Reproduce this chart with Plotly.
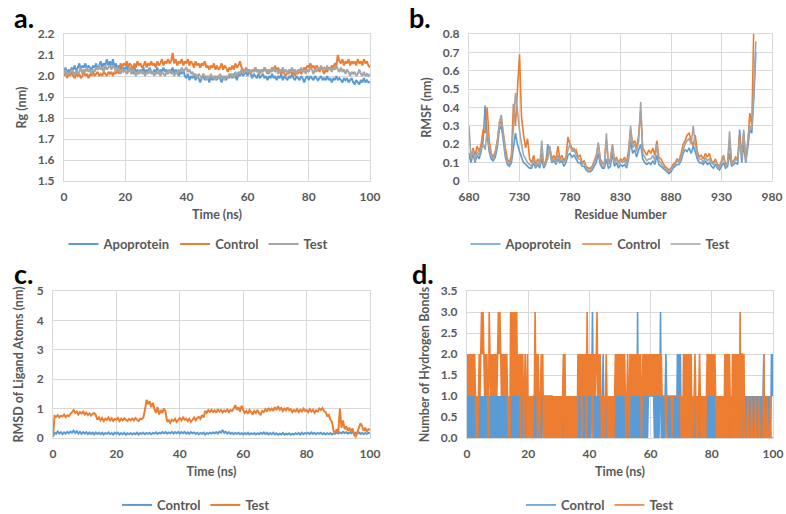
import plotly.graph_objects as go

# ---------------- data ----------------
time_step_ns = 0.5

# a. Radius of gyration (nm), sampled every 0.5 ns from 0 to 100 ns
rg_apoprotein = [
    2.02, 2.04, 2.01, 2.03, 2.02, 2.04, 2.03, 2.05, 2.02, 2.04,
    2.06, 2.03, 2.05, 2.04, 2.06, 2.03, 2.05, 2.04, 2.03, 2.05,
    2.04, 2.06, 2.03, 2.05, 2.07, 2.04, 2.06, 2.05, 2.08, 2.05,
    2.07, 2.05, 2.08, 2.04, 2.06, 2.03, 2.05, 2.04, 2.02, 2.04,
    2.03, 2.05, 2.02, 2.04, 2.03, 2.01, 2.04, 2.02, 2.03, 2.01,
    2.03, 2.02, 2.04, 2.01, 2.03, 2.02, 2.04, 2.02, 2.01, 2.03,
    2.02, 2.04, 2.01, 2.03, 2.02, 2.04, 2.02, 2.03, 2.01, 2.03,
    2.02, 2.04, 2.01, 2.03, 2.02, 2.00, 2.02, 2.01, 2.03, 2.00,
    1.99, 2.01, 1.98, 2.00, 1.99, 2.01, 1.98, 2.00, 1.99, 1.97,
    1.99, 2.00, 1.98, 2.00, 1.99, 1.97, 2.00, 1.98, 1.99, 2.00,
    1.98, 2.00, 1.99, 1.97, 1.99, 2.00, 1.98, 2.00, 1.99, 2.01,
    1.99, 2.01, 2.00, 1.98, 2.01, 2.00, 2.02, 2.00, 2.01, 2.02,
    2.00, 2.02, 2.01, 1.99, 2.01, 2.00, 1.99, 2.01, 1.99, 2.00,
    2.01, 1.99, 2.00, 1.98, 2.00, 1.99, 2.01, 1.99, 2.00, 1.98,
    2.00, 1.99, 2.01, 1.98, 2.00, 1.99, 1.98, 2.00, 1.99, 2.01,
    1.99, 1.98, 2.00, 1.99, 1.98, 2.00, 1.99, 1.97, 1.99, 2.00,
    1.98, 2.00, 1.99, 1.98, 2.00, 1.99, 1.98, 1.99, 2.00, 1.98,
    1.99, 1.98, 2.00, 1.98, 1.99, 1.97, 1.99, 1.98, 2.00, 1.98,
    1.99, 1.98, 1.97, 1.99, 1.98, 1.99, 1.97, 1.98, 1.99, 1.97,
    1.96, 1.98, 1.97, 1.96, 1.98, 1.97, 1.99, 1.97, 1.98, 1.97,
    1.97,
]
rg_control = [
    2.00, 2.02, 1.99, 2.01, 2.00, 2.02, 2.00, 1.99, 2.01, 2.00,
    2.01, 1.99, 2.00, 2.02, 2.00, 2.01, 1.99, 2.01, 2.00, 2.02,
    2.00, 2.01, 2.02, 2.00, 2.01, 2.00, 2.02, 2.01, 2.00, 2.02,
    2.01, 2.02, 2.00, 2.02, 2.01, 2.03, 2.01, 2.06, 2.04, 2.06,
    2.05, 2.07, 2.04, 2.06, 2.05, 2.03, 2.06, 2.04, 2.07, 2.05,
    2.06, 2.04, 2.05, 2.07, 2.04, 2.06, 2.05, 2.07, 2.05, 2.06,
    2.04, 2.07, 2.05, 2.06, 2.08, 2.05, 2.07, 2.06, 2.08, 2.06,
    2.07, 2.11, 2.06, 2.08, 2.05, 2.07, 2.06, 2.08, 2.05, 2.07,
    2.06, 2.08, 2.05, 2.07, 2.06, 2.04, 2.07, 2.05, 2.06, 2.04,
    2.06, 2.05, 2.07, 2.04, 2.05, 2.03, 2.05, 2.04, 2.06, 2.03,
    2.05, 2.03, 2.04, 2.06, 2.03, 2.05, 2.04, 2.02, 2.04, 2.03,
    2.05, 2.03, 2.06, 2.04, 2.05, 2.07, 2.04, 2.03, 2.02, 2.04,
    2.02, 2.03, 2.01, 2.03, 2.02, 2.04, 2.02, 2.03, 2.01, 2.03,
    2.02, 2.04, 2.03, 2.01, 2.03, 2.02, 2.04, 2.03, 2.05, 2.02,
    2.04, 2.02, 2.01, 2.03, 2.01, 2.00, 2.02, 2.01, 2.03, 2.01,
    2.02, 2.00, 2.02, 2.01, 2.03, 2.01, 2.02, 2.04, 2.03, 2.05,
    2.04, 2.06, 2.04, 2.05, 2.03, 2.05, 2.04, 2.02, 2.04, 2.03,
    2.01, 2.03, 2.02, 2.04, 2.03, 2.05, 2.04, 2.06, 2.05, 2.10,
    2.07, 2.06, 2.08, 2.05, 2.07, 2.06, 2.08, 2.05, 2.07, 2.06,
    2.07, 2.05, 2.08, 2.06, 2.07, 2.05, 2.08, 2.06, 2.07, 2.05,
    2.04,
]
rg_test = [
    2.01, 2.03, 2.00, 2.02, 2.01, 2.03, 2.02, 2.00, 2.03, 2.01,
    2.02, 2.04, 2.01, 2.03, 2.02, 2.04, 2.02, 2.03, 2.01, 2.03,
    2.02, 2.04, 2.03, 2.05, 2.03, 2.04, 2.02, 2.05, 2.03, 2.04,
    2.05, 2.03, 2.05, 2.04, 2.02, 2.04, 2.03, 2.01, 2.03, 2.02,
    2.03, 2.01, 2.02, 2.04, 2.01, 2.03, 2.02, 2.00, 2.02, 2.01,
    2.03, 2.01, 2.02, 2.00, 2.02, 2.01, 2.03, 2.01, 2.02, 2.00,
    2.02, 2.01, 2.03, 2.00, 2.02, 2.01, 2.00, 2.02, 2.01, 2.03,
    2.01, 2.02, 2.00, 2.02, 2.01, 2.03, 2.02, 2.04, 2.02, 2.03,
    2.04, 2.02, 2.03, 2.01, 2.02, 2.00, 2.01, 1.99, 2.01, 2.00,
    1.99, 2.01, 2.00, 1.98, 2.00, 1.99, 2.01, 1.99, 2.00, 1.98,
    2.00, 1.99, 2.01, 1.99, 2.00, 1.98, 2.00, 1.99, 2.01, 2.00,
    2.01, 1.99, 2.02, 2.00, 2.02, 2.01, 2.03, 2.01, 2.02, 2.03,
    2.02, 2.03, 2.01, 2.03, 2.02, 2.04, 2.02, 2.03, 2.01, 2.03,
    2.02, 2.04, 2.02, 2.03, 2.01, 2.03, 2.02, 2.04, 2.02, 2.03,
    2.01, 2.03, 2.02, 2.04, 2.02, 2.03, 2.01, 2.03, 2.02, 2.04,
    2.02, 2.03, 2.01, 2.03, 2.02, 2.04, 2.02, 2.03, 2.01, 2.03,
    2.02, 2.04, 2.03, 2.01, 2.03, 2.02, 2.04, 2.03, 2.05, 2.03,
    2.04, 2.03, 2.05, 2.03, 2.04, 2.02, 2.04, 2.03, 2.05, 2.03,
    2.02, 2.04, 2.02, 2.03, 2.01, 2.03, 2.02, 2.00, 2.02, 2.01,
    2.02, 2.00, 2.01, 2.03, 2.01, 2.00, 2.02, 2.00, 2.01, 2.00,
    2.01,
]

# b. RMSF (nm) per residue, every 2nd residue from 680 to 964
residue_start = 680
residue_step = 2
rmsf_apoprotein = [
    0.14, 0.10, 0.15, 0.10, 0.14, 0.12, 0.16, 0.22, 0.41, 0.25,
    0.16, 0.12, 0.11, 0.13, 0.18, 0.28, 0.30, 0.22, 0.13, 0.09,
    0.08, 0.10, 0.18, 0.26, 0.20, 0.16, 0.13, 0.10, 0.09, 0.08,
    0.07, 0.07, 0.10, 0.07, 0.09, 0.07, 0.12, 0.07, 0.09, 0.20,
    0.16, 0.10, 0.11, 0.09, 0.12, 0.10, 0.11, 0.08, 0.10, 0.14,
    0.15, 0.13, 0.14, 0.12, 0.10, 0.10, 0.08, 0.08, 0.06, 0.05,
    0.05, 0.06, 0.08, 0.10, 0.15, 0.09, 0.07, 0.07, 0.12, 0.07,
    0.08, 0.15, 0.08, 0.10, 0.07, 0.09, 0.08, 0.09, 0.07, 0.12,
    0.22, 0.15, 0.17, 0.13, 0.17, 0.20, 0.12, 0.10, 0.09, 0.10,
    0.09, 0.11, 0.09, 0.14, 0.09, 0.08, 0.07, 0.06, 0.05, 0.04,
    0.05, 0.07, 0.08, 0.09, 0.09, 0.11, 0.15, 0.17, 0.16, 0.18,
    0.15, 0.19, 0.16, 0.12, 0.10, 0.10, 0.09, 0.11, 0.09, 0.10,
    0.08, 0.07, 0.09, 0.07, 0.06, 0.08, 0.10, 0.07, 0.08, 0.15,
    0.08, 0.09, 0.10, 0.09, 0.28, 0.10, 0.20, 0.10, 0.18, 0.28,
    0.26, 0.45, 0.70,
]
rmsf_control = [
    0.15, 0.13, 0.18, 0.14, 0.19, 0.16, 0.20, 0.28, 0.26, 0.40,
    0.22, 0.15, 0.13, 0.16, 0.22, 0.30, 0.33, 0.26, 0.18, 0.12,
    0.10, 0.14, 0.42, 0.30, 0.50, 0.69, 0.35, 0.25, 0.18, 0.23,
    0.12, 0.10, 0.14, 0.09, 0.12, 0.10, 0.15, 0.09, 0.11, 0.14,
    0.18, 0.12, 0.14, 0.11, 0.19, 0.12, 0.14, 0.11, 0.13, 0.24,
    0.20, 0.18, 0.16, 0.17, 0.13, 0.14, 0.10, 0.11, 0.08, 0.07,
    0.07, 0.08, 0.11, 0.14, 0.20, 0.12, 0.10, 0.09, 0.22, 0.10,
    0.12, 0.20, 0.11, 0.13, 0.10, 0.12, 0.11, 0.13, 0.10, 0.17,
    0.28, 0.20, 0.22, 0.18, 0.25, 0.38, 0.18, 0.16, 0.14, 0.17,
    0.15, 0.18, 0.14, 0.22, 0.13, 0.12, 0.10, 0.08, 0.07, 0.06,
    0.07, 0.09, 0.10, 0.12, 0.11, 0.15, 0.20, 0.22, 0.25, 0.26,
    0.22, 0.19, 0.25, 0.16, 0.13, 0.14, 0.12, 0.15, 0.13, 0.15,
    0.11, 0.10, 0.12, 0.09, 0.08, 0.11, 0.14, 0.09, 0.10, 0.22,
    0.10, 0.11, 0.13, 0.12, 0.25, 0.14, 0.26, 0.12, 0.20, 0.37,
    0.30, 0.85, 0.90,
]
rmsf_test = [
    0.30, 0.12, 0.17, 0.11, 0.16, 0.14, 0.18, 0.20, 0.17, 0.28,
    0.18, 0.14, 0.12, 0.15, 0.20, 0.32, 0.36, 0.25, 0.15, 0.10,
    0.09, 0.12, 0.30, 0.48, 0.38, 0.28, 0.20, 0.14, 0.12, 0.10,
    0.09, 0.08, 0.12, 0.08, 0.10, 0.08, 0.22, 0.08, 0.10, 0.12,
    0.19, 0.11, 0.12, 0.10, 0.14, 0.11, 0.12, 0.10, 0.12, 0.17,
    0.20, 0.16, 0.18, 0.14, 0.12, 0.12, 0.09, 0.10, 0.07, 0.06,
    0.06, 0.07, 0.10, 0.12, 0.21, 0.11, 0.08, 0.08, 0.26, 0.09,
    0.10, 0.19, 0.10, 0.12, 0.09, 0.11, 0.10, 0.11, 0.09, 0.14,
    0.30, 0.18, 0.20, 0.16, 0.22, 0.43, 0.15, 0.13, 0.11, 0.12,
    0.12, 0.14, 0.11, 0.20, 0.11, 0.10, 0.08, 0.07, 0.06, 0.05,
    0.06, 0.08, 0.09, 0.11, 0.10, 0.13, 0.17, 0.20, 0.22, 0.23,
    0.20, 0.30, 0.20, 0.14, 0.12, 0.12, 0.10, 0.13, 0.11, 0.12,
    0.10, 0.09, 0.11, 0.08, 0.07, 0.10, 0.13, 0.08, 0.09, 0.27,
    0.09, 0.10, 0.12, 0.11, 0.22, 0.12, 0.28, 0.11, 0.22, 0.30,
    0.28, 0.50, 0.76,
]

# c. RMSD of ligand atoms (nm), every 0.5 ns
rmsd_control = [
    0.05, 0.18, 0.14, 0.22, 0.15, 0.20, 0.13, 0.19, 0.15, 0.21,
    0.16, 0.22, 0.18, 0.25, 0.17, 0.23, 0.15, 0.21, 0.14, 0.20,
    0.15, 0.20, 0.13, 0.19, 0.14, 0.18, 0.12, 0.19, 0.14, 0.18,
    0.13, 0.18, 0.12, 0.17, 0.14, 0.19, 0.13, 0.17, 0.12, 0.18,
    0.14, 0.18, 0.12, 0.17, 0.13, 0.18, 0.11, 0.16, 0.13, 0.17,
    0.12, 0.16, 0.13, 0.18, 0.12, 0.17, 0.14, 0.18, 0.13, 0.17,
    0.14, 0.18, 0.13, 0.17, 0.15, 0.19, 0.14, 0.18, 0.15, 0.20,
    0.16, 0.20, 0.15, 0.19, 0.16, 0.21, 0.15, 0.20, 0.16, 0.21,
    0.15, 0.20, 0.16, 0.21, 0.15, 0.19, 0.14, 0.20, 0.16, 0.19,
    0.14, 0.18, 0.13, 0.17, 0.14, 0.18, 0.12, 0.17, 0.14, 0.18,
    0.15, 0.19, 0.16, 0.20, 0.15, 0.22, 0.18, 0.27, 0.17, 0.21,
    0.15, 0.20, 0.14, 0.18, 0.13, 0.17, 0.14, 0.18, 0.13, 0.17,
    0.12, 0.17, 0.13, 0.18, 0.12, 0.16, 0.13, 0.17, 0.12, 0.16,
    0.13, 0.18, 0.14, 0.19, 0.13, 0.18, 0.12, 0.17, 0.13, 0.18,
    0.12, 0.16, 0.11, 0.15, 0.12, 0.17, 0.11, 0.15, 0.12, 0.16,
    0.11, 0.15, 0.12, 0.16, 0.13, 0.17, 0.12, 0.18, 0.13, 0.17,
    0.14, 0.18, 0.13, 0.19, 0.14, 0.18, 0.13, 0.17, 0.14, 0.18,
    0.13, 0.17, 0.12, 0.16, 0.13, 0.17, 0.12, 0.16, 0.14, 0.18,
    0.15, 0.19, 0.16, 0.21, 0.17, 0.20, 0.15, 0.19, 0.16, 0.20,
    0.14, 0.18, 0.15, 0.19, 0.14, 0.18, 0.13, 0.17, 0.14, 0.18,
    0.15,
]
rmsd_test = [
    0.05, 0.75, 0.72, 0.78, 0.70, 0.76, 0.73, 0.80, 0.71, 0.77,
    0.74, 0.82, 0.88, 0.95, 0.85, 0.90, 0.80, 0.88, 0.83, 0.90,
    0.80, 0.86, 0.78, 0.84, 0.76, 0.82, 0.85, 0.78, 0.62, 0.70,
    0.60, 0.68, 0.58, 0.66, 0.62, 0.70, 0.60, 0.67, 0.58, 0.65,
    0.62, 0.68, 0.58, 0.66, 0.60, 0.67, 0.62, 0.58, 0.65, 0.60,
    0.66, 0.60, 0.68, 0.62, 0.58, 0.66, 0.64, 0.70, 0.95, 1.30,
    1.15, 1.25, 1.05, 1.20, 1.00, 0.85, 1.05, 0.80, 0.95, 0.85,
    1.00, 0.90, 0.55, 0.60, 0.52, 0.62, 0.58, 0.65, 0.55, 0.62,
    0.68, 0.60, 0.70, 0.62, 0.66, 0.58, 0.65, 0.55, 0.62, 0.70,
    0.60, 0.68, 0.72, 0.65, 0.78, 0.70, 0.92, 0.85, 0.95, 0.88,
    0.96, 0.88, 0.94, 0.86, 0.98, 0.90, 0.95, 0.87, 0.94, 0.90,
    0.97, 0.88, 0.95, 0.92, 1.00, 1.12, 0.95, 1.05, 0.90, 1.10,
    0.95, 0.85, 0.92, 0.82, 0.95, 0.88, 0.80, 0.92, 0.85, 0.95,
    0.85, 0.80, 0.92, 0.88, 0.98, 0.90, 1.02, 0.94, 1.00, 0.92,
    1.05, 0.95, 1.08, 0.96, 1.02, 0.92, 1.00, 0.94, 1.04, 0.95,
    0.98, 0.88, 0.95, 0.90, 0.98, 0.88, 0.96, 0.90, 1.00, 0.92,
    0.95, 0.88, 0.98, 0.90, 0.96, 0.86, 0.94, 0.90, 1.00, 0.95,
    1.02, 0.92, 0.88, 0.75, 0.78, 0.62, 0.55, 0.25, 0.15, 0.30,
    0.20, 1.00, 0.35, 0.60, 0.30, 0.40, 0.25, 0.35, 0.22, 0.32,
    0.10, 0.05, 0.20, 0.35, 0.50, 0.40, 0.25, 0.35, 0.22, 0.30,
    0.28,
]

# d. Number of hydrogen bonds, one digit per 0.25 ns frame; each chunk = 10 ns
hb_step_ns = 0.25
hbonds_control_frames = [
    "0101010101" "0101010101" "0101010101" "0101010101",
    "0101010101" "0101010101" "0101010101" "0101010101",
    "0101010101" "0101010101" "1111111111" "1101010101",
    "0101010101" "0101010101" "0101010101" "0101010101",
    "0101310101" "0101010120" "0101010101" "0101010101",
    "0101010101" "0101010101" "0103010101" "0101010111",
    "1111101010" "1013010101" "2101010101" "0101020202",
    "0101010101" "0101010101" "0101010101" "0101010101",
    "0101010101" "0101010101" "0101010101" "0101010101",
    "0101010101" "0101010101" "0101010120" "10101010212",
]
hbonds_test_frames = [
    "2121212121" "2101012123" "2321212103" "2121212121",
    "2323212121" "2121010313" "1313131212" "0212012102",
    "0101010113" "1202101212" "0101010101" "0101010101",
    "0101012020" "1010101010" "1010021212" "0212120312",
    "1212021212" "3121210101" "0121010101" "0101212121",
    "2121212101" "2102121212" "1212121201" "2121212121",
    "2121212121" "2121211111" "0111111101" "1111111111",
    "0102020202" "0202010121" "0101210101" "0101212121",
    "2121210101" "0101010202" "0202100202" "0202020302",
    "2020000100" "0010000100" "0010000020" "00100010000",
]
hbonds_control = [int(c) for c in "".join(hbonds_control_frames)]
hbonds_test = [int(c) for c in "".join(hbonds_test_frames)]

# ---------------- styling ----------------
BLUE = "#5B9BD5"
ORANGE = "#ED7D31"
GRAY = "#A5A5A5"
GRID = "#D9D9D9"
TXT = "#595959"
FONT = "Lato"

time_a = [i * time_step_ns for i in range(len(rg_apoprotein))]
time_c = [i * time_step_ns for i in range(len(rmsd_test))]
time_d_control = [i * hb_step_ns for i in range(len(hbonds_control))]
time_d_test = [i * hb_step_ns for i in range(len(hbonds_test))]
residues = [residue_start + i * residue_step for i in range(len(rmsf_control))]

fig = go.Figure()

def add(x, y, name, color, xa, ya, legend, width=1.5):
    fig.add_trace(go.Scatter(
        x=x, y=y, name=name, mode="lines",
        line=dict(color=color, width=width, simplify=False),
        xaxis=xa, yaxis=ya, legend=legend, hoverinfo="skip",
    ))

add(time_a, rg_apoprotein, "Apoprotein", BLUE, "x", "y", "legend", 2)
add(time_a, rg_control, "Control", ORANGE, "x", "y", "legend", 2)
add(time_a, rg_test, "Test", GRAY, "x", "y", "legend", 2)

add(residues, rmsf_apoprotein, "Apoprotein", BLUE, "x2", "y2", "legend2", 1.6)
add(residues, rmsf_control, "Control", ORANGE, "x2", "y2", "legend2", 1.6)
add(residues, rmsf_test, "Test", GRAY, "x2", "y2", "legend2", 1.6)

add(time_c, rmsd_control, "Control", BLUE, "x3", "y3", "legend3", 2)
add(time_c, rmsd_test, "Test", ORANGE, "x3", "y3", "legend3", 2)

add(time_d_control, hbonds_control, "Control", BLUE, "x4", "y4", "legend4", width=1.6)
add(time_d_test, hbonds_test, "Test", ORANGE, "x4", "y4", "legend4", width=1.6)

W, H = 786, 514

def px_x(a, b):
    return [a / W, b / W]

def px_y(top, bottom):
    return [1 - bottom / H, 1 - top / H]

tickfont = dict(family=FONT, size=12, color=TXT, weight="bold")
titlefont = dict(family=FONT, size=12.5, color=TXT, weight="bold")

def xax(domain, anchor, rng, dtick, title):
    return dict(domain=domain, anchor=anchor, range=rng, dtick=dtick, tick0=rng[0],
                showgrid=True, gridcolor=GRID, gridwidth=1, zeroline=False,
                showline=True, linecolor=GRID, mirror=True, ticks="",
                tickfont=tickfont, ticklabelstandoff=5, automargin=False,
                title=dict(text=title, font=titlefont, standoff=6))

def yax(domain, anchor, rng, dtick, title, fmt=None, standoff=8):
    d = dict(domain=domain, anchor=anchor, range=rng, dtick=dtick, tick0=rng[0],
             showgrid=True, gridcolor=GRID, gridwidth=1, zeroline=False,
             showline=True, linecolor=GRID, mirror=True, ticks="",
             tickfont=tickfont, ticklabelstandoff=6, automargin=False,
             title=dict(text=title, font=titlefont, standoff=standoff))
    if fmt:
        d["tickformat"] = fmt
    return d

dom_top = px_y(34, 181)
dom_bot = px_y(291, 438)

legend_common = dict(orientation="h", xanchor="center",
                     font=dict(family=FONT, size=13, color=TXT, weight="bold"),
                     bgcolor="rgba(0,0,0,0)", itemwidth=30, tracegroupgap=0,
                     itemclick=False, itemdoubleclick=False)

fig.update_layout(
    width=W, height=H,
    margin=dict(l=0, r=0, t=0, b=0, autoexpand=False),
    paper_bgcolor="white", plot_bgcolor="white",
    showlegend=True,
    xaxis=xax(px_x(64, 370), "y", [0, 100], 20, "Time (ns)"),
    yaxis=yax(dom_top, "x", [1.5, 2.2], 0.1, "Rg (nm)", ".1f"),
    xaxis2=xax(px_x(469, 772), "y2", [680, 980], 50, "Residue Number"),
    yaxis2=yax(dom_top, "x2", [0, 0.8], 0.1, "RMSF (nm)"),
    xaxis3=xax(px_x(53, 370), "y3", [0, 100], 20, "Time (ns)"),
    yaxis3=yax(dom_bot, "x3", [0, 5], 1, "RMSD of Ligand Atoms (nm)", standoff=10),
    xaxis4=xax(px_x(467, 773), "y4", [0, 100], 20, "Time (ns)"),
    yaxis4=yax(dom_bot, "x4", [0, 3.5], 0.5, "Number of Hydrogen Bonds", ".1f"),
    legend=dict(x=198 / W, y=1 - 244 / H, yanchor="middle", **legend_common),
    legend2=dict(x=600 / W, y=1 - 244 / H, yanchor="middle", **legend_common),
    legend3=dict(x=196 / W, y=1 - 505 / H, yanchor="middle", **legend_common),
    legend4=dict(x=600 / W, y=1 - 505 / H, yanchor="middle", **legend_common),
)

for label, xp, yp in [("a.", 13, 0), ("b.", 408, 0), ("c.", 13, 256), ("d.", 411, 256)]:
    fig.add_annotation(text=label, x=xp / W, y=1 - yp / H, xref="paper", yref="paper",
                       xanchor="left", yanchor="top", showarrow=False, borderpad=0,
                       font=dict(family=FONT, size=27, color="black", weight="bold"))

fig.write_html(
    "out.html",
    config={"displayModeBar": False, "staticPlot": True},
    post_script="document.body.style.margin='0';document.body.style.overflow='hidden';",
)
